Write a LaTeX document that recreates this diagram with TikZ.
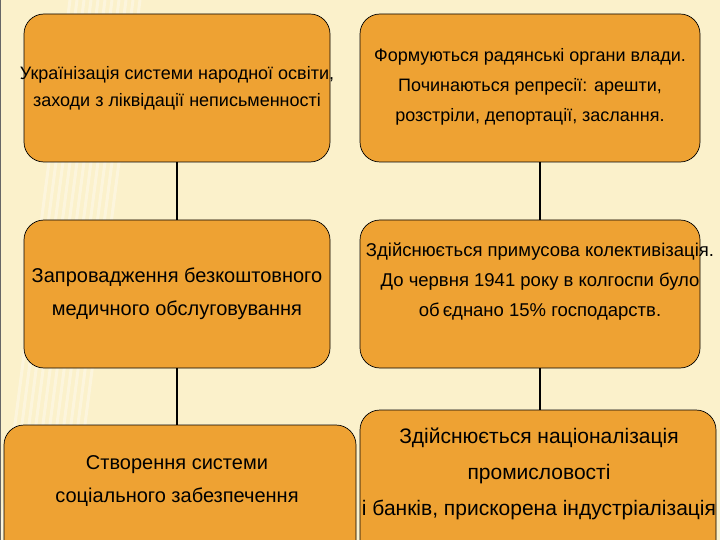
\documentclass[tikz,border=0pt]{standalone}
\usepackage{fontspec}
\setmainfont{Liberation Sans}
\definecolor{bg}{HTML}{FBF1CB}
\definecolor{boxc}{HTML}{EEA233}
\newcommand{\fsz}[2]{\fontsize{#1}{#2}\selectfont}
\begin{document}
\begin{tikzpicture}[x=1pt,y=-1pt,
  card/.style={draw=black,fill=boxc,rounded corners=20pt,line width=0.7pt},
  lbl/.style={align=center,inner sep=0pt,text=black},
  link/.style={line width=2.2pt,black}]
\useasboundingbox (0,0) rectangle (720,540);
\fill[bg] (0,0) rectangle (720,540);
\foreach \i in {0,...,10}{\draw[white,opacity=0.35,line width=3pt] (\i*7,540) -- (\i*7+70,0);}
\draw[black!60,line width=1pt] (0.5,0) -- (0.5,540);
\draw[card] (24,14) rectangle (330,162);
\draw[card] (360,14) rectangle (700,162);
\draw[card] (24,220) rectangle (330,368);
\draw[card] (360,220) rectangle (700,368);
\draw[card] (4,425) rectangle (356,560);
\draw[card] (360,410) rectangle (716,560);
\node[lbl,font=\fsz{18}{27}] (a) at (177,88) {Українізація системи народної освіти,\\заходи з ліквідації неписьменності};
\node[lbl,font=\fsz{18}{30}] (b) at (530,87) {Формуються радянські органи влади.\\Починаються репресії: арешти,\\розстріли, депортації, заслання.};
\node[lbl,font=\fsz{20}{33}] (c) at (177,294) {Запровадження безкоштовного\\медичного обслуговування};
\node[lbl,font=\fsz{18.5}{30}] (d) at (540,282) {Здійснюється примусова колективізація.\\До червня 1941 року в колгоспи було\\об\,єднано 15\% господарств.};
\node[lbl,font=\fsz{20}{33}] (e) at (177,481) {Створення системи\\соціального забезпечення};
\node[lbl,font=\fsz{21}{36}] (f) at (539,474) {Здійснюється націоналізація\\промисловості\\і банків, прискорена індустріалізація};
\coordinate (a1) at (177,162); \coordinate (c0) at (177,220);
\coordinate (c1) at (177,368); \coordinate (e0) at (177,425);
\coordinate (b1) at (540,162); \coordinate (d0) at (540,220);
\coordinate (d1) at (540,368); \coordinate (f0) at (540,410);
\draw[link] (a1) -- (c0); \draw[link] (c1) -- (e0);
\draw[link] (b1) -- (d0); \draw[link] (d1) -- (f0);
\end{tikzpicture}
\end{document}
